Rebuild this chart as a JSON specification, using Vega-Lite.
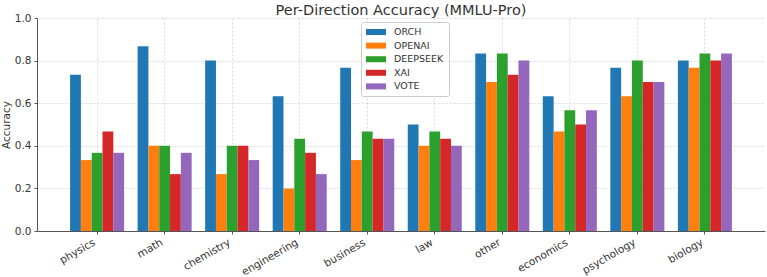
{
  "$schema": "https://vega.github.io/schema/vega-lite/v6.json",
  "width": 728,
  "height": 213,
  "autosize": {"type": "none"},
  "padding": {"left": 37, "top": 18, "right": 2, "bottom": 46},
  "background": "white",
  "title": {
    "text": "Per-Direction Accuracy (MMLU-Pro)",
    "font": "DejaVu Sans",
    "fontSize": 14.5,
    "fontWeight": "normal",
    "color": "#333333",
    "anchor": "middle",
    "offset": -5
  },
  "config": {
    "view": {"stroke": null},
    "axis": {
      "labelFont": "DejaVu Sans",
      "titleFont": "DejaVu Sans",
      "labelColor": "#333333",
      "titleColor": "#333333",
      "domainColor": "#555555",
      "tickColor": "#555555",
      "gridColor": "#d0d0d0",
      "gridDash": [2, 2],
      "gridWidth": 0.8
    }
  },
  "data": {
    "values": [
      {"direction": "physics", "model": "ORCH", "accuracy": 0.733},
      {"direction": "physics", "model": "OPENAI", "accuracy": 0.333},
      {"direction": "physics", "model": "DEEPSEEK", "accuracy": 0.367},
      {"direction": "physics", "model": "XAI", "accuracy": 0.467},
      {"direction": "physics", "model": "VOTE", "accuracy": 0.367},
      {"direction": "math", "model": "ORCH", "accuracy": 0.867},
      {"direction": "math", "model": "OPENAI", "accuracy": 0.4},
      {"direction": "math", "model": "DEEPSEEK", "accuracy": 0.4},
      {"direction": "math", "model": "XAI", "accuracy": 0.267},
      {"direction": "math", "model": "VOTE", "accuracy": 0.367},
      {"direction": "chemistry", "model": "ORCH", "accuracy": 0.8},
      {"direction": "chemistry", "model": "OPENAI", "accuracy": 0.267},
      {"direction": "chemistry", "model": "DEEPSEEK", "accuracy": 0.4},
      {"direction": "chemistry", "model": "XAI", "accuracy": 0.4},
      {"direction": "chemistry", "model": "VOTE", "accuracy": 0.333},
      {"direction": "engineering", "model": "ORCH", "accuracy": 0.633},
      {"direction": "engineering", "model": "OPENAI", "accuracy": 0.2},
      {"direction": "engineering", "model": "DEEPSEEK", "accuracy": 0.433},
      {"direction": "engineering", "model": "XAI", "accuracy": 0.367},
      {"direction": "engineering", "model": "VOTE", "accuracy": 0.267},
      {"direction": "business", "model": "ORCH", "accuracy": 0.767},
      {"direction": "business", "model": "OPENAI", "accuracy": 0.333},
      {"direction": "business", "model": "DEEPSEEK", "accuracy": 0.467},
      {"direction": "business", "model": "XAI", "accuracy": 0.433},
      {"direction": "business", "model": "VOTE", "accuracy": 0.433},
      {"direction": "law", "model": "ORCH", "accuracy": 0.5},
      {"direction": "law", "model": "OPENAI", "accuracy": 0.4},
      {"direction": "law", "model": "DEEPSEEK", "accuracy": 0.467},
      {"direction": "law", "model": "XAI", "accuracy": 0.433},
      {"direction": "law", "model": "VOTE", "accuracy": 0.4},
      {"direction": "other", "model": "ORCH", "accuracy": 0.833},
      {"direction": "other", "model": "OPENAI", "accuracy": 0.7},
      {"direction": "other", "model": "DEEPSEEK", "accuracy": 0.833},
      {"direction": "other", "model": "XAI", "accuracy": 0.733},
      {"direction": "other", "model": "VOTE", "accuracy": 0.8},
      {"direction": "economics", "model": "ORCH", "accuracy": 0.633},
      {"direction": "economics", "model": "OPENAI", "accuracy": 0.467},
      {"direction": "economics", "model": "DEEPSEEK", "accuracy": 0.567},
      {"direction": "economics", "model": "XAI", "accuracy": 0.5},
      {"direction": "economics", "model": "VOTE", "accuracy": 0.567},
      {"direction": "psychology", "model": "ORCH", "accuracy": 0.767},
      {"direction": "psychology", "model": "OPENAI", "accuracy": 0.633},
      {"direction": "psychology", "model": "DEEPSEEK", "accuracy": 0.8},
      {"direction": "psychology", "model": "XAI", "accuracy": 0.7},
      {"direction": "psychology", "model": "VOTE", "accuracy": 0.7},
      {"direction": "biology", "model": "ORCH", "accuracy": 0.8},
      {"direction": "biology", "model": "OPENAI", "accuracy": 0.767},
      {"direction": "biology", "model": "DEEPSEEK", "accuracy": 0.833},
      {"direction": "biology", "model": "XAI", "accuracy": 0.8},
      {"direction": "biology", "model": "VOTE", "accuracy": 0.833}
    ]
  },
  "mark": {"type": "bar"},
  "encoding": {
    "x": {
      "field": "direction",
      "type": "nominal",
      "sort": null,
      "scale": {"paddingInner": 0.2, "paddingOuter": 0.49},
      "axis": {
        "title": null,
        "labelAngle": -30,
        "labelAlign": "right",
        "labelBaseline": "top",
        "labelFontSize": 10.5,
        "labelPadding": 3,
        "labelOffset": -5,
        "tickSize": 3,
        "bandPosition": 0.5,
        "grid": true
      }
    },
    "xOffset": {
      "field": "model",
      "type": "nominal",
      "sort": ["ORCH", "OPENAI", "DEEPSEEK", "XAI", "VOTE"],
      "scale": {"paddingInner": 0, "paddingOuter": 0}
    },
    "y": {
      "field": "accuracy",
      "type": "quantitative",
      "scale": {"domain": [0, 1], "nice": false},
      "axis": {
        "title": "Accuracy",
        "titleFontSize": 10.5,
        "titleFontWeight": "normal",
        "titlePadding": 3,
        "values": [0, 0.2, 0.4, 0.6, 0.8, 1.0],
        "format": ".1f",
        "labelFontSize": 10.5,
        "tickSize": 3,
        "labelPadding": 3,
        "grid": true
      }
    },
    "color": {
      "field": "model",
      "type": "nominal",
      "sort": ["ORCH", "OPENAI", "DEEPSEEK", "XAI", "VOTE"],
      "scale": {
        "domain": ["ORCH", "OPENAI", "DEEPSEEK", "XAI", "VOTE"],
        "range": ["#1f77b4", "#ff7f0e", "#2ca02c", "#d62728", "#9467bd"]
      },
      "legend": {
        "title": null,
        "orient": "none",
        "legendX": 324,
        "legendY": 4,
        "symbolType": "M-2,-0.6H2V0.6H-2Z",
        "symbolSize": 100,
        "symbolStrokeWidth": 0,
        "symbolOffset": 5,
        "labelOffset": 13,
        "labelFont": "DejaVu Sans",
        "labelFontSize": 9.5,
        "labelColor": "#333333",
        "rowPadding": 3.6,
        "padding": 5,
        "strokeColor": "#cccccc",
        "fillColor": "white",
        "cornerRadius": 2
      }
    }
  }
}
